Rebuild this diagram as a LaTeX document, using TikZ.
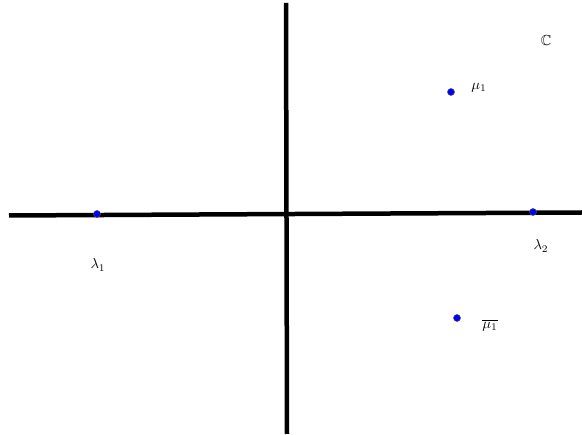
\documentclass[tikz,border=0pt]{standalone}
\usepackage{amsmath,amssymb,amsfonts}
\usetikzlibrary{positioning}
\newcommand{\biglbl}[1]{\scalebox{1.45}{$#1$}}

\begin{document}
\begin{tikzpicture}[
  x=1pt, y=-1pt,
  axis/.style={line width=4.5pt, black},
  pt/.style={circle, fill=blue, draw=black!70, line width=0.5pt,
    inner sep=0pt, minimum size=7pt},
  lbl/.style={inner sep=0pt}
]
\useasboundingbox (0,0) rectangle (582,435);
% axes
\coordinate (xl) at (9,215.5);
\coordinate (xr) at (582,212.5);
\coordinate (yt) at (286,3);
\coordinate (yb) at (287,434);
\draw[axis] (xl) -- (xr);
\draw[axis] (yt) -- (yb);
% points
\node[pt] (l1)  at (97,214)  {};
\node[pt] (l2)  at (533,212) {};
\node[pt] (m1)  at (451,92)  {};
\node[pt] (m1b) at (457,318) {};
% labels
\node[lbl] (cc)   at (546,41)  {\biglbl{\mathbb{C}}};
\node[lbl] (lm1)  at (479,88)  {\biglbl{\mu_1}};
\node[lbl] (ll1)  at (98,265)  {\biglbl{\lambda_1}};
\node[lbl] (ll2)  at (541,246) {\biglbl{\lambda_2}};
\node[lbl] (lm1b) at (490,325) {\biglbl{\overline{\mu_1}}};
\end{tikzpicture}
\end{document}
